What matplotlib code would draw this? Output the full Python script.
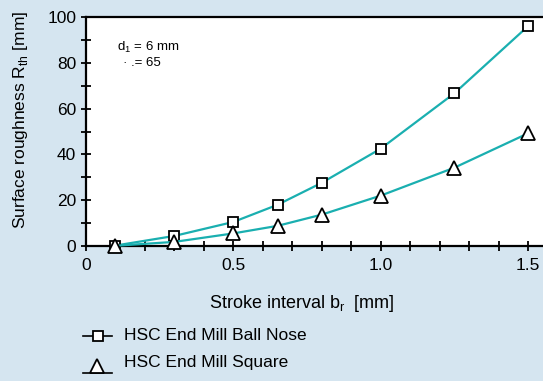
import matplotlib
matplotlib.use("Agg")
import matplotlib.pyplot as plt
from matplotlib.lines import Line2D
from matplotlib.ticker import MultipleLocator, FixedLocator

plt.rcParams['font.family'] = ['Liberation Sans', 'DejaVu Sans']

stroke_interval = [0.1, 0.3, 0.5, 0.65, 0.8, 1.0, 1.25, 1.5]
ball_nose = [0.2, 4.4, 10.5, 18.0, 27.6, 42.5, 66.7, 96.0]
square_mill = [0.1, 1.8, 5.5, 8.8, 13.7, 22.0, 34.2, 49.2]
x_ticks = [0, 0.5, 1.0, 1.5]
x_tick_labels = ["0", "0.5", "1.0", "1.5"]
y_ticks = [0, 20, 40, 60, 80, 100]
series_labels = ["HSC End Mill Ball Nose", "HSC End Mill Square"]

bg = "#d5e5f0"
teal = "#1aafb0"
fs = 12.5

fig = plt.figure(figsize=(5.43, 3.81), dpi=100, facecolor=bg)
ax = fig.add_axes([86/543, 1 - 246/381, 1 - 86/543, (246 - 17)/381])
ax.set_facecolor("white")

ax.plot(stroke_interval, ball_nose, color=teal, lw=1.6, marker="s", ms=7.5,
        mfc="white", mec="black", mew=1.3, zorder=3, clip_on=False)
ax.plot(stroke_interval, square_mill, color=teal, lw=1.6, marker="^", ms=9.5,
        mfc="white", mec="black", mew=1.3, zorder=3, clip_on=False)

ax.set_xlim(0, (543 - 86) / 294.7)
ax.set_ylim(0, 100)
ax.xaxis.set_major_locator(FixedLocator(x_ticks))
ax.set_xticklabels(x_tick_labels)
ax.xaxis.set_minor_locator(MultipleLocator(0.1))
ax.yaxis.set_major_locator(FixedLocator(y_ticks))
ax.yaxis.set_minor_locator(MultipleLocator(10))
ax.tick_params(which="both", direction="inout", length=7, width=1.3,
               color="black", labelsize=fs)
ax.tick_params(axis="x", which="both", top=False, pad=5)
ax.tick_params(axis="y", which="both", right=False, pad=3.5)

for s in ["left", "bottom", "top"]:
    ax.spines[s].set_linewidth(1.6)
ax.spines["right"].set_visible(False)

ax.set_xlabel("Stroke interval b$_\\mathregular{r}$  [mm]", fontsize=13)
ax.set_ylabel("Surface roughness R$_\\mathregular{th}$ [mm]", fontsize=fs)
ax.xaxis.set_label_coords(0.473, -0.205)
ax.yaxis.set_label_coords(-0.122, 0.55)

ax.text(0.068, 0.865, "d$_\\mathregular{1}$ = 6 mm", transform=ax.transAxes,
        fontsize=9.5, va="center")
ax.text(0.082, 0.80, "\u00b7 .= 65", transform=ax.transAxes,
        fontsize=9.5, va="center")

# legend drawn below the axes in pixel coordinates
def px(x, y):
    return x / 543, 1 - y / 381

y1 = 335.5
fig.add_artist(Line2D([px(83, 0)[0], px(112, 0)[0]], [px(0, y1)[1]] * 2,
                      color="black", lw=1.2))
fig.add_artist(Line2D([px(97.5, 0)[0]], [px(0, y1)[1]], marker="s", ms=7.2,
                      mfc="white", mec="black", mew=1.3))
fig.text(*px(124, y1), series_labels[0], fontsize=fs, va="center")

y2 = 362.5
fig.add_artist(Line2D([px(83, 0)[0], px(112, 0)[0]], [px(0, 372.5)[1]] * 2,
                      color="black", lw=1.2))
fig.add_artist(Line2D([px(96.5, 0)[0]], [px(0, 366)[1]], marker="^", ms=10,
                      mfc="white", mec="black", mew=1.3))
fig.text(*px(124, y2), series_labels[1], fontsize=fs, va="center")

fig.savefig("out.png", dpi=100, facecolor=bg)
